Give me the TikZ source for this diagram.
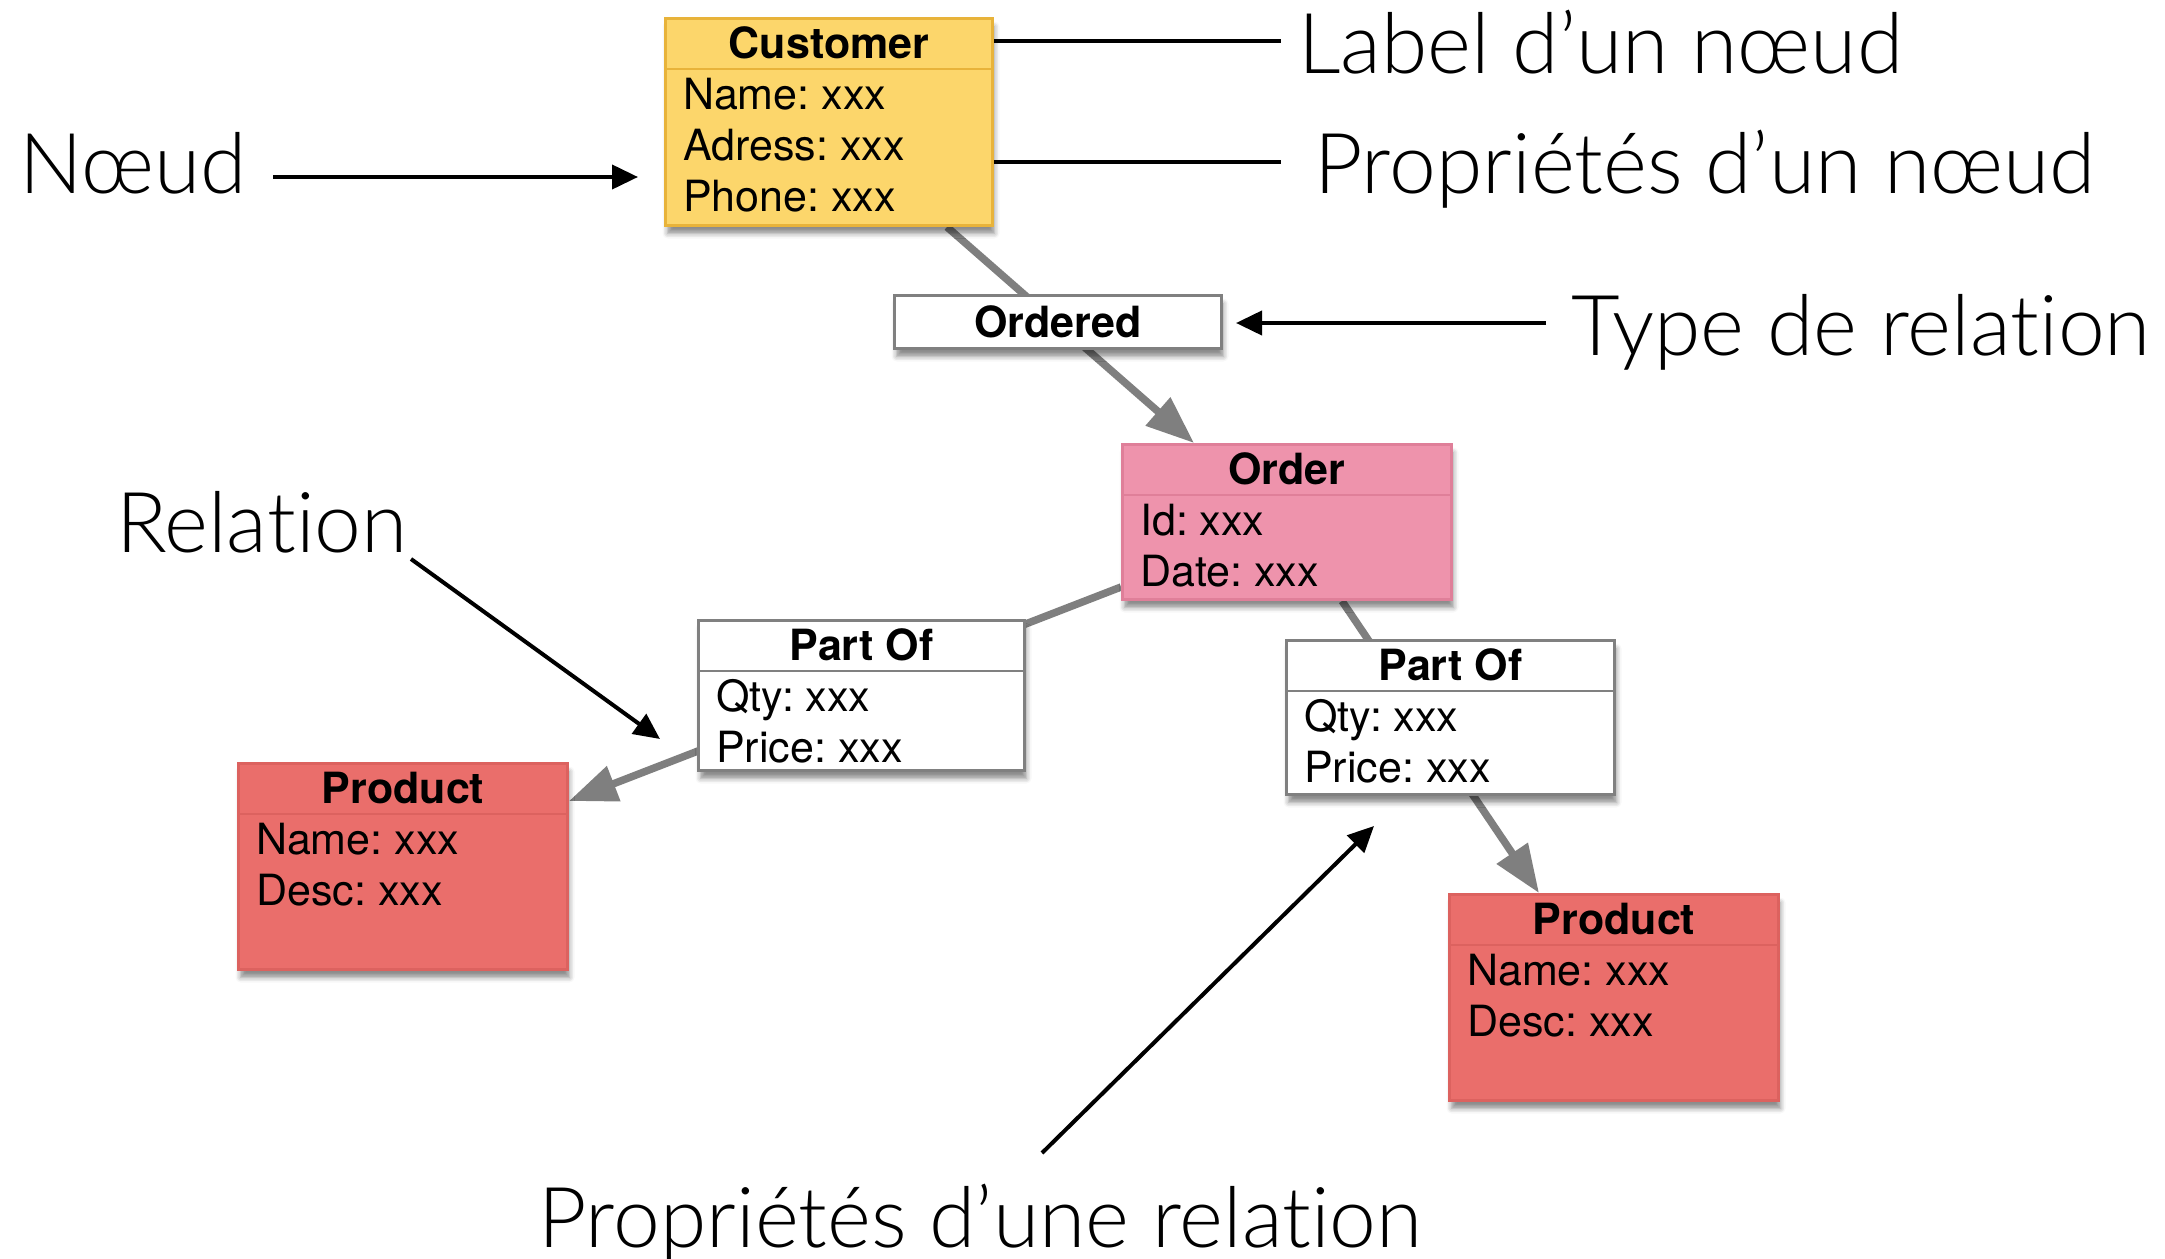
\documentclass[tikz,border=0pt]{standalone}
\usepackage{fontspec}
\setmainfont{TeX Gyre Heros}
\IfFontExistsTF{Lato Light}
  {\newfontfamily\notefont{Lato Light}[Ligatures={NoCommon,NoRequired,NoContextual}]}
  {\newfontfamily\notefont{Liberation Sans}}
\usetikzlibrary{arrows.meta,shadows.blur,backgrounds}
\frenchspacing

\definecolor{custfill}{HTML}{FCD66B}
\definecolor{custline}{HTML}{E8B33A}
\definecolor{ordfill}{HTML}{EE93AC}
\definecolor{ordline}{HTML}{DF7F99}
\definecolor{prodfill}{HTML}{EA6E6B}
\definecolor{prodline}{HTML}{DC625F}
\definecolor{relfill}{HTML}{FFFFFF}
\definecolor{relline}{HTML}{808080}
\definecolor{linkgray}{HTML}{7F7F7F}

\tikzset{
  boxbase/.style={rectangle, line width=3pt, inner sep=0pt,
    blur shadow={shadow xshift=2pt, shadow yshift=-8pt,
                 shadow blur radius=5pt, shadow opacity=45}},
  divider/.style={line width=2.5pt},
  titletext/.style={font=\fontsize{43}{51}\selectfont\bfseries, inner sep=0pt},
  bodytext/.style={font=\fontsize{43}{51}\selectfont, inner sep=0pt},
  link/.style={draw=linkgray, line width=7.5pt,
    -{Triangle[length=48pt,width=36pt]}},
  note/.style={draw=black, line width=4pt},
  notearrow/.style={note, -{Triangle[length=26pt,width=24pt]}},
  annot/.style={font=\notefont\fontsize{84}{90}\selectfont, inner sep=0pt},
}

% #1 colour prefix, #2 name, #3 x, #4 y, #5 width, #6 height, #7 title, #8 lines
\newcommand\entitybox[8]{%
  \node[boxbase, fill=#1fill, draw=#1line, minimum width=#5pt,
        minimum height=#6pt, anchor=north west] (#2) at (#3,#4) {};
  \draw[divider, draw=#1line] ([yshift=-52pt]#2.north west)
        -- ([yshift=-52pt]#2.north east);
  \node[titletext, anchor=base] (#2-title) at ([yshift=-41pt]#2.north) {#7};
  \foreach \ln [count=\i] in {#8}
    \node[bodytext, anchor=base west] (#2-l\i)
      at ([xshift=19pt, yshift={-92pt-(\i-1)*51pt}]#2.north west) {\ln};
}

\begin{document}
\begin{tikzpicture}[x=1pt, y=-1pt]
  \useasboundingbox (0,0) rectangle (2165,1258);

  % entities and relations
  \entitybox{cust}{cust}{664}{17}{327}{207}{Customer}
    {Name: xxx, Adress: xxx, Phone: xxx}
  \node[boxbase, fill=relfill, draw=relline, minimum width=327pt,
        minimum height=53pt, anchor=north west,
        font=\fontsize{43}{51}\selectfont\bfseries] (ordered) at (893,294) {Ordered};
  \entitybox{ord}{order}{1121}{443}{329}{155}{Order}
    {Id: xxx, Date: xxx}
  \entitybox{rel}{partA}{697}{619}{326}{150}{Part Of}
    {Qty: xxx, Price: xxx}
  \entitybox{rel}{partB}{1285}{639}{328}{154}{Part Of}
    {Qty: xxx, Price: xxx}
  \entitybox{prod}{prodA}{237}{762}{329}{206}{Product}
    {Name: xxx, Desc: xxx}
  \entitybox{prod}{prodB}{1448}{893}{329}{206}{Product}
    {Name: xxx, Desc: xxx}

  % graph edges, drawn under the boxes
  \begin{scope}[on background layer]
    \draw[link] ([xshift=283pt]cust.south west) -- ([xshift=73pt]order.north west);
    \draw[link] ([yshift=14pt]order.south west) -- ([yshift=-39pt]prodA.north east);
    \draw[link] ([xshift=221pt]order.south west) -- ([xshift=91pt]prodB.north west);
  \end{scope}

  % annotations
  \node[annot, anchor=base west] (tLabel) at (1298,73) {Label d’un nœud};
  \node[annot, anchor=base west] (tProps) at (1314,193) {Propriétés d’un nœud};
  \node[annot, anchor=base west] (tNode) at (19,193) {Nœud};
  \node[annot, anchor=base west] (tType) at (1571,355) {Type de relation};
  \node[annot, anchor=base west] (tRel) at (116,552) {Relation};
  \node[annot, anchor=base west] (tRelProps) at (538,1247) {Propriétés d’une relation};

  \coordinate (labelEnd) at (1281,41);
  \coordinate (propsEnd) at (1281,162);
  \coordinate (nodeStart) at (273,177);
  \coordinate (nodeTip) at (638,177);
  \coordinate (typeStart) at (1546,323);
  \coordinate (typeTip) at (1236,323);
  \coordinate (relStart) at (411,559);
  \coordinate (relTip) at (660,739);
  \coordinate (rpStart) at (1042,1153);
  \coordinate (rpTip) at (1374,826);

  \draw[note] ([yshift=-24pt]cust.north east) -- (labelEnd);
  \draw[note] ([yshift=-145pt]cust.north east) -- (propsEnd);
  \draw[notearrow] (nodeStart) -- (nodeTip);
  \draw[notearrow] (typeStart) -- (typeTip);
  \draw[notearrow] (relStart) -- (relTip);
  \draw[notearrow] (rpStart) -- (rpTip);
\end{tikzpicture}
\end{document}
